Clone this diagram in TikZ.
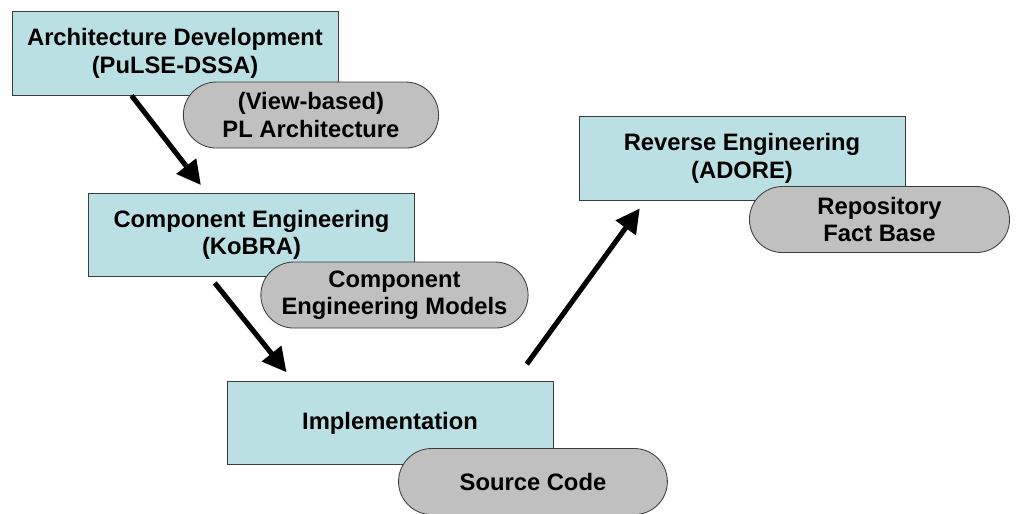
\documentclass[tikz,border=0pt]{standalone}
\usepackage{fontspec}
\setmainfont{Liberation Sans}
\usetikzlibrary{arrows.meta, positioning, shapes.misc}
\definecolor{phasecyan}{RGB}{187,224,227}
\definecolor{artgray}{RGB}{192,192,192}
\definecolor{edgegray}{RGB}{60,60,60}

\begin{document}
\begin{tikzpicture}[x=0.025cm, y=-0.025cm,
    phase/.style={rectangle, draw=edgegray, line width=0.6pt, fill=phasecyan, minimum width=8.15cm, minimum height=2.08cm, align=center, font=\fontsize{16.9}{19.5}\selectfont\bfseries},
    artifact/.style={rounded rectangle, draw=edgegray, line width=0.6pt, fill=artgray, minimum height=1.65cm, inner sep=0pt, align=center, font=\fontsize{16.9}{19.5}\selectfont\bfseries},
    flow/.style={-{Triangle[length=0.6cm, width=0.6cm]}, line width=3.6pt, black}
]
\useasboundingbox[fill=white] (0,0) rectangle (1017,513);
% process phases
\node[phase] (arch) at (175,53.5) {Architecture Development\\(PuLSE-DSSA)};
\node[phase] (comp) at (251.5,235) {Component Engineering\\(KoBRA)};
\node[phase] (impl) at (390,423) {Implementation};
\node[phase] (rev) at (742,158.5) {Reverse Engineering\\(ADORE)};
% artifacts hanging off each phase
\node[artifact, minimum width=6.38cm] (plarch) at ([shift={(-27.5,19.5)}]arch.south east) {(View-based)\\PL Architecture};
\node[artifact, minimum width=6.68cm] (models) at ([shift={(-20.5,18)}]comp.south east) {Component\\Engineering Models};
\node[artifact, minimum width=6.72cm] (code) at ([shift={(-20.5,16.5)}]impl.south east) {Source Code};
\node[artifact, minimum width=6.5cm] (facts) at ([shift={(-26,19)}]rev.south east) {Repository\\Fact Base};
% flow between phases
\draw[flow, shorten >=0.25cm] ([shift={(120,0)}]arch.south west) -- ([shift={(119,0)}]comp.north west);
\draw[flow, shorten <=0.19cm, shorten >=0.28cm] ([shift={(122,0)}]comp.south west) -- ([shift={(67,0)}]impl.north west);
\draw[flow, shorten <=0.52cm, shorten >=0.245cm] ([shift={(288,0)}]impl.north west) -- ([shift={(67,0)}]rev.south west);
\end{tikzpicture}
\end{document}
